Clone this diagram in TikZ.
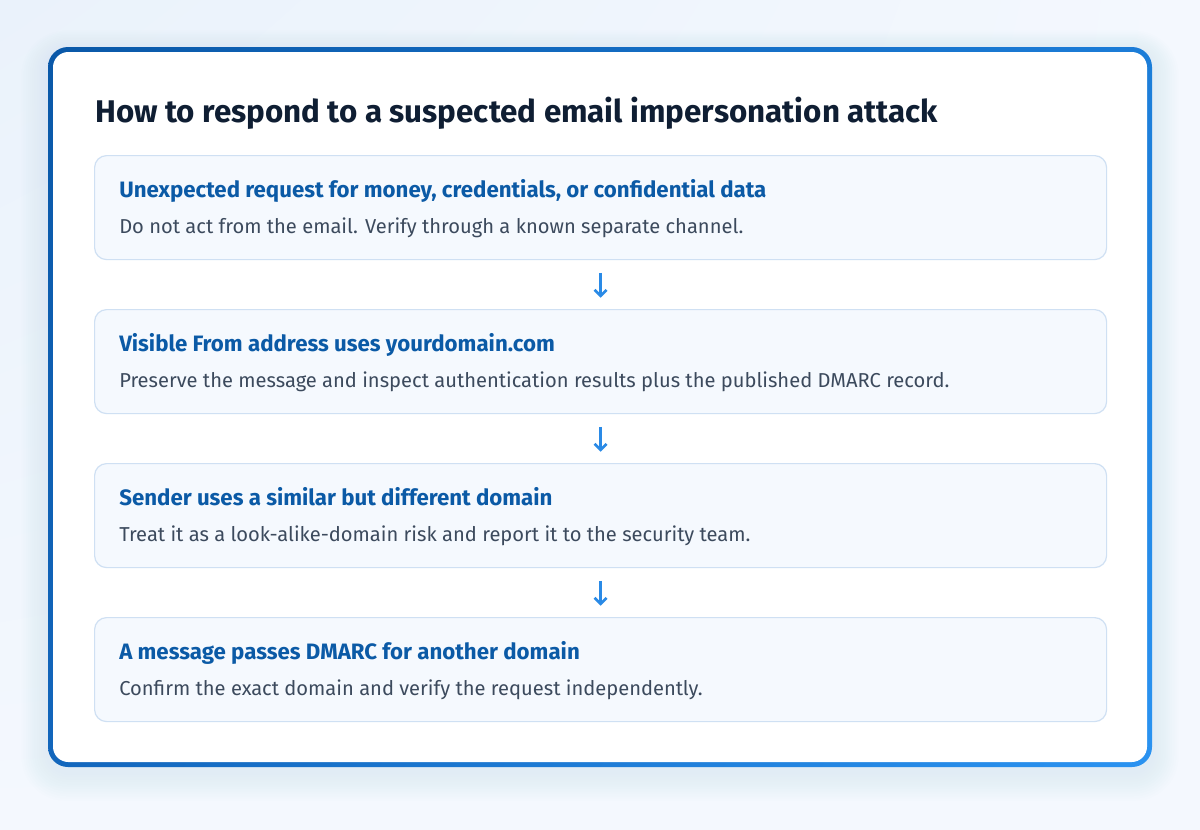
\documentclass[tikz,border=0pt]{standalone}
\usepackage{fontspec}
\setmainfont{Fira Sans}
\usetikzlibrary{arrows.meta,shadings}
\definecolor{bgA}{HTML}{EAF2FB}
\definecolor{bgB}{HTML}{F4F8FE}
\definecolor{frTL}{HTML}{0A58A8}
\definecolor{frTR}{HTML}{1C7DD8}
\definecolor{frBL}{HTML}{1266BC}
\definecolor{frBR}{HTML}{2B93F1}
\definecolor{shadowc}{HTML}{B4D3F5}
\definecolor{titlec}{HTML}{0F1E33}
\definecolor{headc}{HTML}{0B5AA6}
\definecolor{bodyc}{HTML}{3C4A5D}
\definecolor{boxfill}{HTML}{F5F9FE}
\definecolor{boxline}{HTML}{CFE0F3}
\definecolor{arrowc}{HTML}{2A8AE6}
\tikzset{
  stepbox/.style={draw=boxline, line width=0.9pt, fill=boxfill, rounded corners=9pt,
    minimum width=759pt, minimum height=78pt, inner sep=0pt, anchor=north west},
  headtext/.style={anchor=base west, text=headc, font=\fontsize{16.7pt}{19pt}\selectfont\bfseries},
  bodytext/.style={anchor=base west, text=bodyc, font=\fontsize{15.1pt}{18pt}\selectfont},
  flowarrow/.style={draw=arrowc, line width=1.9pt, -{Straight Barb[length=4.5pt,width=9pt,line width=1.9pt]},
    shorten <=9.5pt, shorten >=8.5pt}
}
\begin{document}
\begin{tikzpicture}[x=0.75pt,y=-0.75pt]
\useasboundingbox (0,0) rectangle (1200,829);
\shade[upper left=bgA, upper right=bgB, lower left=bgB, lower right=bgB] (0,0) rectangle (1200,829);
% soft shadow
\foreach \i in {1,...,12}{
  \fill[shadowc, opacity=0.02, rounded corners={(15+\i*1.5)*1pt}]
    ({48-\i*2.2},{50-\i*1.6}) rectangle ({1152+\i*2.2},{772+\i*2.4});
}
% frame
\shade[upper left=frTL, upper right=frTR, lower left=frBL, lower right=frBR, rounded corners=15pt]
  (48,47) rectangle (1152,767);
\fill[white, rounded corners=11.5pt] (53,52) rectangle (1147,762);
% title
\node[anchor=base west, text=titlec, font=\fontsize{23.5pt}{28pt}\selectfont\bfseries, inner sep=0pt]
  (title) at (95,122) {How to respond to a suspected email impersonation attack};
% boxes
\node[stepbox] (b1) at (94,155) {};
\node[stepbox] (b2) at (94,309) {};
\node[stepbox] (b3) at (94,463) {};
\node[stepbox] (b4) at (94,617) {};
\node[headtext, inner sep=0pt] (h1) at (119,197) {Unexpected request for money, credentials, or confidential data};
\node[bodytext, inner sep=0pt] (t1) at (119,233) {Do not act from the email. Verify through a known separate channel.};
\node[headtext, inner sep=0pt] (h2) at (119,351) {Visible From address uses yourdomain.com};
\node[bodytext, inner sep=0pt] (t2) at (119,387) {Preserve the message and inspect authentication results plus the published DMARC record.};
\node[headtext, inner sep=0pt] (h3) at (119,505) {Sender uses a similar but different domain};
\node[bodytext, inner sep=0pt] (t3) at (119,541) {Treat it as a look-alike-domain risk and report it to the security team.};
\node[headtext, inner sep=0pt] (h4) at (119,659) {A message passes DMARC for another domain};
\node[bodytext, inner sep=0pt] (t4) at (119,695) {Confirm the exact domain and verify the request independently.};
% arrows
\draw[flowarrow] (b1.south) -- (b2.north);
\draw[flowarrow] (b2.south) -- (b3.north);
\draw[flowarrow] (b3.south) -- (b4.north);
\end{tikzpicture}
\end{document}
